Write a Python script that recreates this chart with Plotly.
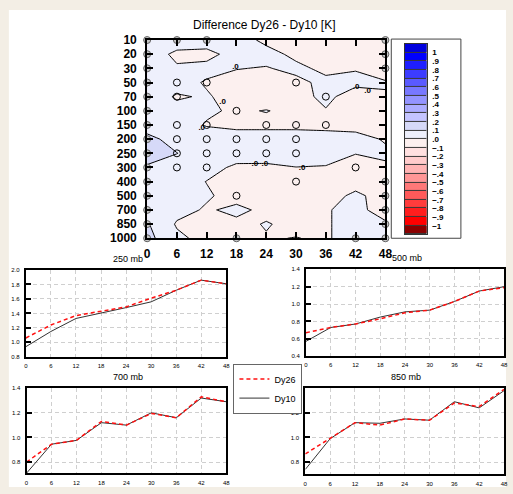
import plotly.graph_objects as go

W, H = 513, 494

# ---------------- data ----------------
times = [0, 6, 12, 18, 24, 30, 36, 42, 48]
levels = ["10", "20", "30", "50", "70", "100", "150", "200", "250", "300",
          "400", "500", "700", "850", "1000"]

# Dy26 - Dy10 difference [K], rows = pressure levels (top to bottom), cols = lead time
diff = [
    [0.05, 0.05, 0.05, 0.04, -0.02, -0.04, -0.05, -0.05, -0.05],      # 10
    [0.05, -0.02, -0.03, 0.04, 0.03, -0.02, -0.04, -0.04, -0.04],     # 20
    [0.05, 0.01, 0.03, 0.003, -0.005, 0.02, -0.02, -0.005, -0.03],    # 30
    [0.05, 0.04, -0.01, -0.03, -0.03, -0.02, 0.02, 0.02, 0.005],      # 50
    [0.05, -0.01, 0.01, -0.04, -0.04, -0.03, 0.02, -0.04, -0.005],    # 70
    [0.05, 0.03, 0.01, -0.01, 0.003, -0.02, -0.005, -0.02, -0.02],    # 100
    [0.05, 0.03, -0.005, -0.02, -0.02, -0.02, -0.02, -0.02, -0.02],   # 150
    [0.13, 0.06, 0.04, 0.04, 0.04, 0.04, 0.03, 0.02, -0.005],         # 200
    [0.18, 0.102, 0.05, 0.04, 0.03, 0.03, 0.02, 0.002, 0.01],         # 250
    [0.08, 0.05, 0.03, -0.015, -0.012, -0.001, -0.003, -0.03, -0.009],  # 300
    [0.04, 0.04, -0.002, -0.03, -0.04, -0.04, -0.03, -0.02, -0.02],   # 400
    [0.04, 0.03, 0.01, -0.03, -0.03, -0.03, -0.02, 0.01, -0.02],      # 500
    [0.05, 0.03, -0.01, 0.02, -0.02, -0.03, -0.005, 0.02, -0.03],     # 700
    [0.11, -0.01, -0.03, -0.02, 0.005, -0.02, -0.01, 0.04, 0.01],     # 850
    [0.13, 0.02, -0.03, -0.02, -0.005, 0.002, -0.01, 0.04, 0.03],     # 1000
]

# significance markers (lead time, level)
sig_t = [0, 0, 0, 0, 0, 0, 0, 0, 0, 0, 0, 0, 0, 0, 0,
         6, 12, 48,
         48, 48, 48, 48, 48, 48, 48,
         18, 42,
         6, 12, 30, 6, 36, 18,
         6, 12, 24, 30, 36,
         6, 12, 18, 24, 30,
         6, 12, 18, 24, 30,
         6, 12, 42, 30, 18]
sig_lvl = ["10", "20", "30", "50", "70", "100", "150", "200", "250", "300", "400", "500", "700", "850", "1000",
           "10", "10", "10",
           "20", "30", "400", "500", "700", "850", "1000",
           "1000", "1000",
           "50", "50", "50", "70", "70", "100",
           "150", "150", "150", "150", "150",
           "200", "200", "200", "200", "200",
           "250", "250", "250", "250", "250",
           "300", "300", "300", "400", "500"]

# zero-line labels: (lead time, level position)
zero_label_t = [17.8, 15.2, 42.1, 44.4, 11.0, 21.7, 23.7, 31.2]
zero_label_y = [1.9, 4.4, 3.35, 3.6, 6.2, 8.75, 8.75, 9.05]

# colour-bar boundaries and labels
cbar_levels = [-1.0, -0.9, -0.8, -0.7, -0.6, -0.5, -0.4, -0.3, -0.2, -0.1, 0.0,
               0.1, 0.2, 0.3, 0.4, 0.5, 0.6, 0.7, 0.8, 0.9, 1.0]
cbar_labels = ["\u22121", "\u2212.9", "\u2212.8", "\u2212.7", "\u2212.6", "\u2212.5", "\u2212.4",
               "\u2212.3", "\u2212.2", "\u2212.1", ".0", ".1", ".2", ".3", ".4", ".5", ".6",
               ".7", ".8", ".9", "1"]

# curves per level
lead = [0, 6, 12, 18, 24, 30, 36, 42, 48]
dy26_250 = [1.06, 1.24, 1.37, 1.43, 1.49, 1.61, 1.72, 1.86, 1.81]
dy10_250 = [0.94, 1.15, 1.33, 1.40, 1.48, 1.56, 1.72, 1.86, 1.81]
dy26_500 = [0.67, 0.73, 0.77, 0.83, 0.90, 0.93, 1.03, 1.15, 1.19]
dy10_500 = [0.57, 0.73, 0.77, 0.85, 0.91, 0.93, 1.03, 1.15, 1.20]
dy26_700 = [0.80, 0.945, 0.976, 1.13, 1.10, 1.195, 1.16, 1.33, 1.29]
dy10_700 = [0.71, 0.945, 0.976, 1.12, 1.10, 1.20, 1.16, 1.32, 1.29]
dy26_850 = [0.866, 0.99, 1.12, 1.10, 1.15, 1.14, 1.28, 1.25, 1.39]
dy10_850 = [0.74, 0.99, 1.12, 1.115, 1.15, 1.14, 1.29, 1.24, 1.38]

# ---------------- layout helpers (pixel positions -> paper fractions) ----------------
def dx(a, b):
    return [a / W, min(b / W, 1.0)]


def dy(top, bottom):
    return [1 - bottom / H, 1 - top / H]


band_colors = ['#8b0000', '#ff0000', '#ff1e1e', '#ff3c3c', '#ff5a5a', '#ff7878',
               '#ff9696', '#ffb4b4', '#ffcccc', '#ffe0e0', '#fcf0ef',
               '#eef0fc', '#d6d9f8', '#c4c4ff', '#acacff', '#9494ff', '#7878ff',
               '#5a5aff', '#3c3cff', '#1e1eff', '#0000ff', '#0000dd']
nb = len(band_colors)
cscale = []
for k, c in enumerate(band_colors):
    cscale.append([k / nb, c])
    cscale.append([(k + 1) / nb, c])

FONT = "Liberation Sans, Arial, sans-serif"
lvl_idx = {l: i for i, l in enumerate(levels)}

fig = go.Figure()

# ---- main contour ----
fig.add_trace(go.Contour(
    x=times, y=list(range(len(levels))), z=diff,
    xaxis='x', yaxis='y',
    autocontour=False,
    contours=dict(start=cbar_levels[0], end=cbar_levels[-1], size=0.1,
                  coloring='fill', showlines=True),
    line=dict(color='black', width=1, smoothing=0),
    colorscale=cscale, showscale=False, hoverinfo='skip', showlegend=False))

fig.add_trace(go.Scatter(
    x=zero_label_t, y=zero_label_y, mode='text', text=['.0'] * len(zero_label_t),
    textfont=dict(family=FONT, size=8, color='black', weight='bold'),
    xaxis='x', yaxis='y', hoverinfo='skip', showlegend=False))

edge = [(t in (times[0], times[-1]) or l in (levels[0], levels[-1])) for t, l in zip(sig_t, sig_lvl)]
fig.add_trace(go.Scatter(
    x=[t for t, e in zip(sig_t, edge) if not e],
    y=[lvl_idx[l] for l, e in zip(sig_lvl, edge) if not e],
    mode='markers', xaxis='x', yaxis='y', cliponaxis=False,
    marker=dict(symbol='circle-open', size=7, color='black', line=dict(width=1)),
    hoverinfo='skip', showlegend=False))
fig.add_trace(go.Scatter(
    x=[t for t, e in zip(sig_t, edge) if e],
    y=[lvl_idx[l] for l, e in zip(sig_lvl, edge) if e],
    mode='markers', xaxis='x', yaxis='y', cliponaxis=False,
    marker=dict(symbol='circle', size=7, color='#c8c8c8', line=dict(width=1, color='#606060')),
    hoverinfo='skip', showlegend=False))

# ---- colour bar as a heatmap ----
band_centres = [cbar_levels[0] - 0.05] + [v + 0.05 for v in cbar_levels]
fig.add_trace(go.Heatmap(
    x=[0], y=band_centres, z=[[v] for v in band_centres],
    xaxis='x2', yaxis='y2', colorscale=cscale, zmin=-1.1, zmax=1.1,
    ygap=1, showscale=False, hoverinfo='skip', showlegend=False))

# ---- line panels ----
panels = [
    ("250 mb", dy26_250, dy10_250, dx(23.3, 227.7), dy(270.7, 360), [0.8, 2.0],
     [0.8, 1.0, 1.2, 1.4, 1.6, 1.8, 2.0]),
    ("500 mb", dy26_500, dy10_500, dx(309, 511), dy(270, 359.3), [0.4, 1.4],
     [0.4, 0.6, 0.8, 1.0, 1.2, 1.4]),
    ("700 mb", dy26_700, dy10_700, dx(24, 227.7), dy(392.3, 480), [0.708, 1.4],
     [0.8, 1.0, 1.2, 1.4]),
    ("850 mb", dy26_850, dy10_850, dx(308.3, 511), dy(392.3, 481), [0.70, 1.4],
     [0.8, 1.0, 1.2, 1.4]),
]

layout_axes = {}
annotations = []
for i, (name, d26, d10, xd, yd, yr, yt) in enumerate(panels):
    n = i + 3
    xa, ya = f'x{n}', f'y{n}'
    fig.add_trace(go.Scatter(x=lead, y=d10, xaxis=xa, yaxis=ya, mode='lines',
                             line=dict(color='#333333', width=1), name='Dy10',
                             legendrank=2, showlegend=(i == 0), hoverinfo='skip'))
    fig.add_trace(go.Scatter(x=lead, y=d26, xaxis=xa, yaxis=ya, mode='lines',
                             line=dict(color='#ff1010', width=1.5, dash='4px,3px'), name='Dy26',
                             legendrank=1, showlegend=(i == 0), hoverinfo='skip'))
    layout_axes[f'xaxis{n}'] = dict(
        domain=xd, range=[lead[0], lead[-1]], tickvals=lead, anchor=ya,
        showline=True, linewidth=2, linecolor='black', mirror=True,
        ticks='', showgrid=True, gridcolor='#cfcfcf', griddash='4px,3px', gridwidth=1,
        zeroline=False, tickfont=dict(family=FONT, size=6, color='black'),
        ticklabelstandoff=2)
    layout_axes[f'yaxis{n}'] = dict(
        domain=yd, range=yr, tickvals=yt, tickformat='.1f', anchor=xa,
        showline=True, linewidth=2, linecolor='black', mirror=True,
        ticks='inside', ticklen=5, tickwidth=2, tickcolor='black',
        showgrid=True, gridcolor='#cfcfcf', griddash='4px,3px', gridwidth=1,
        zeroline=False, tickfont=dict(family=FONT, size=6, color='black'),
        ticklabelstandoff=3)
    annotations.append(dict(text=name, xref='paper', yref='paper',
                            x=(xd[0] + xd[1]) / 2 + 0.003, y=yd[1] + 11.5 / H,
                            xanchor='center', yanchor='middle', showarrow=False,
                            font=dict(family=FONT, size=9, color='black')))

annotations.append(dict(text="Difference Dy26 - Dy10 [K]", xref='paper', yref='paper',
                        x=267 / W, y=1 - 19 / H, xanchor='center', yanchor='middle',
                        showarrow=False, font=dict(family=FONT, size=12, color='black')))

shapes = [
    # white page over the beige backdrop
    dict(type='rect', xref='paper', yref='paper', x0=6 / W, x1=1, y0=0, y1=1 - 3 / H,
         fillcolor='white', line=dict(width=0), layer='below'),
    # colour-bar frame
    dict(type='rect', xref='paper', yref='paper', x0=396 / W, x1=467 / W,
         y0=1 - 238 / H, y1=1 - 33 / H, fillcolor='rgba(0,0,0,0)',
         line=dict(width=1, color='#444444'), layer='below'),
    # dark backing that shows through the heatmap gaps
    dict(type='rect', xref='x2 domain', yref='y2 domain', x0=0, x1=1, y0=0, y1=1,
         fillcolor='#3a3a3a', line=dict(width=0), layer='below'),
]

tick_main = dict(family=FONT, size=12, color='black', weight='bold')
fig.update_layout(
    width=W, height=H, margin=dict(l=0, r=0, t=0, b=0),
    paper_bgcolor='#f3eee5', plot_bgcolor='rgba(0,0,0,0)',
    xaxis=dict(domain=dx(147, 390), range=[times[0], times[-1]], tickvals=times,
               anchor='y', ticks='inside', ticklen=6, tickwidth=2, tickcolor='black',
               showline=True, linewidth=2, linecolor='black', mirror='ticks',
               showgrid=False, zeroline=False, tickfont=tick_main, ticklabelstandoff=3),
    yaxis=dict(domain=dy(34, 238), range=[len(levels) - 1, 0],
               tickvals=list(range(len(levels))), ticktext=levels,
               anchor='x', ticks='inside', ticklen=6, tickwidth=2, tickcolor='black',
               showline=True, linewidth=2, linecolor='black', mirror='ticks',
               showgrid=False, zeroline=False, tickfont=tick_main, ticklabelstandoff=6),
    xaxis2=dict(domain=dx(410, 432), range=[-0.5, 0.5], anchor='y2',
                showticklabels=False, ticks='', showgrid=False, zeroline=False,
                showline=True, linewidth=1, linecolor='#333333', mirror=True),
    yaxis2=dict(domain=dy(38, 234), range=[-1.1, 1.1], anchor='x2', side='right',
                tickvals=cbar_levels, ticktext=cbar_labels, ticks='',
                showgrid=False, zeroline=False,
                showline=True, linewidth=1, linecolor='#333333', mirror=True,
                tickfont=dict(family=FONT, size=8, color='black', weight='bold'),
                ticklabelstandoff=3),
    annotations=annotations, shapes=shapes,
    showlegend=True,
    legend=dict(x=235 / W, y=1 - 367 / H, xanchor='left', yanchor='top',
                bgcolor='white', bordercolor='#666666', borderwidth=1,
                font=dict(family=FONT, size=9, color='black'),
                tracegroupgap=0, itemwidth=30, traceorder='normal'),
    **layout_axes,
)

# zero page margin so the 513x494 figure fills the window exactly
page_css = 'none.js"></script><style>html,body{margin:0;padding:0}</style><script src="none.js'
fig.write_html("out.html", config={'displayModeBar': False}, include_mathjax=page_css)
